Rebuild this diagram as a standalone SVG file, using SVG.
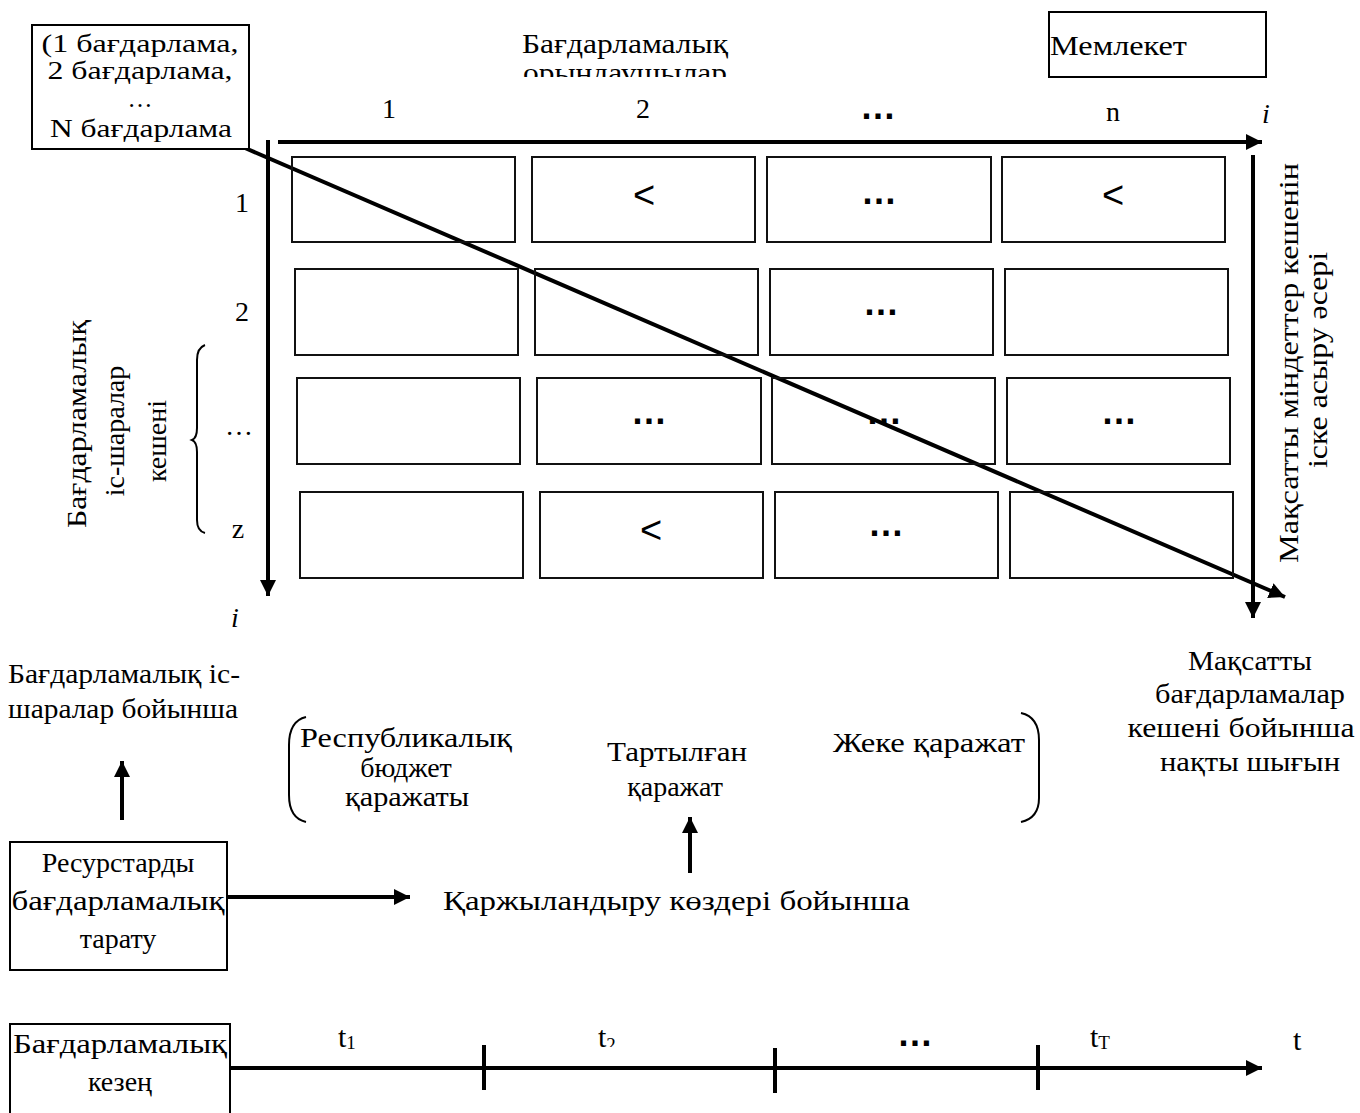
<svg xmlns="http://www.w3.org/2000/svg" width="1360" height="1113" viewBox="0 0 1360 1113">
<style>
text{font-family:"Liberation Serif","Times New Roman",serif;font-size:28px;fill:#000}
.m{text-anchor:middle}
.sm{font-size:25px}
.d{font-family:"Liberation Sans",Arial,sans-serif;font-weight:bold;font-size:36px;text-anchor:middle}
.lt{font-family:"Liberation Sans",Arial,sans-serif;font-size:38px;text-anchor:middle}
.it{font-style:italic}
.t{font-size:30px}
.box{fill:#fff;stroke:#000;stroke-width:2}
.cell{fill:none;stroke:#111;stroke-width:2}
.ax{stroke:#000;stroke-width:4;fill:none}
.br{stroke:#000;stroke-width:2;fill:none}
</style>
<defs>
<marker id="ah" markerUnits="userSpaceOnUse" markerWidth="17" markerHeight="16" refX="16" refY="8" orient="auto"><path d="M0,0 L16,8 L0,16 z" fill="#000"/></marker>
<clipPath id="c1"><rect x="0" y="0" width="1360" height="77"/></clipPath>
<clipPath id="c2"><rect x="0" y="0" width="1360" height="1047"/></clipPath>
</defs>
<rect width="1360" height="1113" fill="#fff"/>

<g id="connectors">
<line class="ax" x1="278" y1="142" x2="1262" y2="142" marker-end="url(#ah)"/>
<line class="ax" x1="268" y1="140" x2="268" y2="596" marker-end="url(#ah)"/>
<line class="ax" x1="1253" y1="155" x2="1253" y2="618" marker-end="url(#ah)"/>
<line class="ax" x1="245" y1="148" x2="1285" y2="597" marker-end="url(#ah)"/>
<line class="ax" x1="122" y1="820" x2="122" y2="761" marker-end="url(#ah)"/>
<line class="ax" x1="227" y1="897" x2="410" y2="897" marker-end="url(#ah)"/>
<line class="ax" x1="690" y1="873" x2="690" y2="817" marker-end="url(#ah)"/>
<line class="ax" x1="231" y1="1068" x2="1262" y2="1068" marker-end="url(#ah)"/>
<line class="ax" x1="484" y1="1045" x2="484" y2="1090"/>
<line class="ax" x1="775" y1="1048" x2="775" y2="1093"/>
<line class="ax" x1="1038" y1="1045" x2="1038" y2="1090"/>
</g>

<g id="programs-box">
<rect class="box" x="32" y="25" width="217" height="124"/>
<text class="m sm" x="140" y="52" textLength="197" lengthAdjust="spacingAndGlyphs">(1 бағдарлама,</text>
<text class="m sm" x="140" y="79" textLength="185" lengthAdjust="spacingAndGlyphs">2 бағдарлама,</text>
<text class="m sm" x="140" y="107">…</text>
<text class="m sm" x="141" y="137" textLength="182" lengthAdjust="spacingAndGlyphs">N бағдарлама</text>
</g>

<g id="executors-title" clip-path="url(#c1)">
<text class="m" x="625" y="53" textLength="206" lengthAdjust="spacingAndGlyphs">Бағдарламалық</text>
<text class="m" x="625" y="82" textLength="204" lengthAdjust="spacingAndGlyphs">орындаушылар</text>
</g>

<g id="state-box">
<rect class="box" x="1049" y="12" width="217" height="65"/>
<text x="1050" y="55" textLength="137" lengthAdjust="spacingAndGlyphs">Мемлекет</text>
</g>

<g id="col-labels">
<text class="m" x="389" y="118">1</text>
<text class="m" x="643" y="118">2</text>
<text class="d" x="878" y="119">…</text>
<text class="m" x="1113" y="121">n</text>
<text class="m it" x="1266" y="123">i</text>
</g>

<g id="row-labels">
<text class="m" x="242" y="212">1</text>
<text class="m" x="242" y="321">2</text>
<text class="m" x="239" y="435">…</text>
<text class="m" x="238" y="538">z</text>
<text class="m it" x="235" y="627">i</text>
<path class="br" d="M205,345 Q197,348 197,360 L197,428 Q197,438 192,440 Q197,442 197,452 L197,520 Q197,531 205,533"/>
</g>

<g id="left-vertical-label">
<text class="m" transform="translate(86,424) rotate(-90)" textLength="208" lengthAdjust="spacingAndGlyphs">Бағдарламалық</text>
<text class="m" transform="translate(124,431) rotate(-90)">іс-шаралар</text>
<text class="m" transform="translate(166,441) rotate(-90)">кешені</text>
</g>

<g id="right-vertical-label">
<text class="m" transform="translate(1298,363) rotate(-90)" textLength="400" lengthAdjust="spacingAndGlyphs">Мақсатты міндеттер кешенін</text>
<text class="m" transform="translate(1327,360) rotate(-90)" textLength="216" lengthAdjust="spacingAndGlyphs">іске асыру әсері</text>
</g>

<g id="grid">
<g id="row1">
<rect class="cell" x="292" y="157" width="223" height="85"/>
<rect class="cell" x="532" y="157" width="223" height="85"/>
<rect class="cell" x="767" y="157" width="224" height="85"/>
<rect class="cell" x="1002" y="157" width="223" height="85"/>
<text class="lt" x="644" y="208">&lt;</text>
<text class="d" x="879" y="204">…</text>
<text class="lt" x="1113" y="208">&lt;</text>
</g>
<g id="row2">
<rect class="cell" x="295" y="269" width="223" height="86"/>
<rect class="cell" x="535" y="269" width="223" height="86"/>
<rect class="cell" x="770" y="269" width="223" height="86"/>
<rect class="cell" x="1005" y="269" width="223" height="86"/>
<text class="d" x="881" y="315">…</text>
</g>
<g id="row3">
<rect class="cell" x="297" y="378" width="223" height="86"/>
<rect class="cell" x="537" y="378" width="224" height="86"/>
<rect class="cell" x="772" y="378" width="223" height="86"/>
<rect class="cell" x="1007" y="378" width="223" height="86"/>
<text class="d" x="649" y="424">…</text>
<text class="d" x="884" y="424">…</text>
<text class="d" x="1119" y="424">…</text>
</g>
<g id="row4">
<rect class="cell" x="300" y="492" width="223" height="86"/>
<rect class="cell" x="540" y="492" width="223" height="86"/>
<rect class="cell" x="775" y="492" width="223" height="86"/>
<rect class="cell" x="1010" y="492" width="223" height="86"/>
<text class="lt" x="651" y="543">&lt;</text>
<text class="d" x="886" y="536">…</text>
</g>
</g>

<g id="by-activities">
<text x="8" y="683" textLength="232" lengthAdjust="spacingAndGlyphs">Бағдарламалық іс-</text>
<text x="8" y="718" textLength="230" lengthAdjust="spacingAndGlyphs">шаралар бойынша</text>
</g>

<g id="actual-cost">
<text class="m" x="1250" y="670" textLength="124" lengthAdjust="spacingAndGlyphs">Мақсатты</text>
<text class="m" x="1250" y="703" textLength="190" lengthAdjust="spacingAndGlyphs">бағдарламалар</text>
<text class="m" x="1241" y="737" textLength="227" lengthAdjust="spacingAndGlyphs">кешені бойынша</text>
<text class="m" x="1250" y="771" textLength="180" lengthAdjust="spacingAndGlyphs">нақты шығын</text>
</g>

<g id="sources">
<path class="br" d="M306,717 Q289,721 289,745 L289,795 Q289,818 306,822"/>
<text x="300" y="747" textLength="212" lengthAdjust="spacingAndGlyphs">Республикалық</text>
<text class="m" x="406" y="777">бюджет</text>
<text class="m" x="407" y="806" textLength="124" lengthAdjust="spacingAndGlyphs">қаражаты</text>
<text class="m" x="677" y="761" textLength="140" lengthAdjust="spacingAndGlyphs">Тартылған</text>
<text class="m" x="675" y="796">қаражат</text>
<text x="833" y="752" textLength="192" lengthAdjust="spacingAndGlyphs">Жеке қаражат</text>
<path class="br" d="M1021,713 Q1039,717 1039,740 L1039,798 Q1039,818 1021,822"/>
</g>

<g id="distribution-box">
<rect class="box" x="10" y="842" width="217" height="128"/>
<text class="m" x="118" y="872">Ресурстарды</text>
<text class="m" x="118" y="910" textLength="213" lengthAdjust="spacingAndGlyphs">бағдарламалық</text>
<text class="m" x="118" y="948">тарату</text>
</g>

<g id="financing-sources">
<text x="443" y="910" textLength="467" lengthAdjust="spacingAndGlyphs">Қаржыландыру көздері бойынша</text>
</g>

<g id="period-box">
<rect class="box" x="10" y="1024" width="220" height="100"/>
<text class="m" x="120" y="1053" textLength="214" lengthAdjust="spacingAndGlyphs">Бағдарламалық</text>
<text class="m" x="120" y="1091">кезең</text>
</g>

<g id="time-labels">
<text class="t" x="338" y="1047">t<tspan font-size="19" dy="2">1</tspan></text>
<g clip-path="url(#c2)"><text class="t" x="598" y="1047">t<tspan font-size="19" dy="4">2</tspan></text></g>
<text class="d" x="915" y="1046">…</text>
<text class="t" x="1090" y="1047">t<tspan font-size="19" dy="2">Т</tspan></text>
<text class="t" x="1293" y="1050">t</text>
</g>
</svg>
